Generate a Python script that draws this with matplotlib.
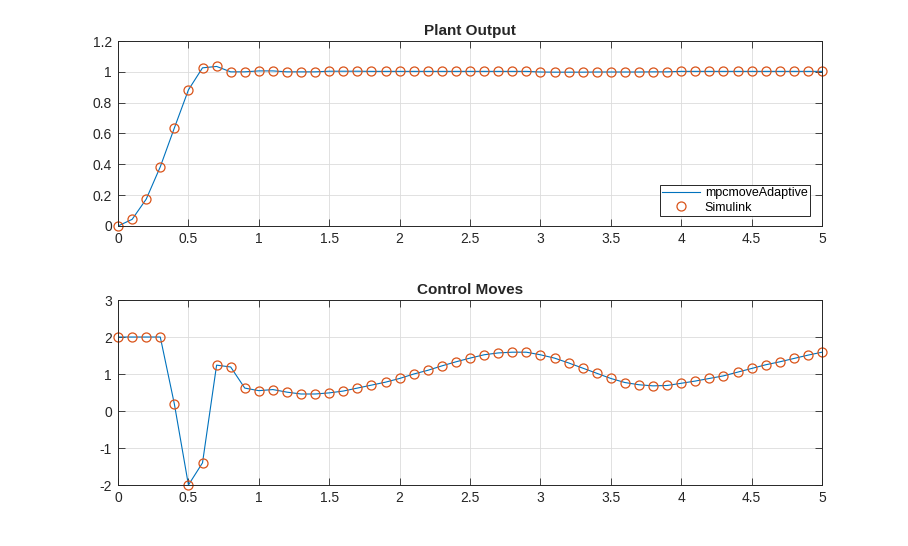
import numpy as np
import matplotlib.pyplot as plt
from matplotlib.ticker import FuncFormatter

plt.rcParams['font.family'] = ['Liberation Sans', 'DejaVu Sans']

# simulation time, step 0.1
t = np.round(np.arange(0, 5.01, 0.1), 1)

# plant output (both sims give the same values)
y_out = [0.0, 0.043, 0.174, 0.384, 0.636, 0.883, 1.026, 1.035, 1.0, 1.0,
         1.006, 1.006, 1.0, 1.0, 1.0, 1.004, 1.004, 1.004, 1.003, 1.003,
         1.003, 1.003, 1.003, 1.003, 1.003, 1.003, 1.003, 1.003, 1.003, 1.003,
         0.999, 0.998, 0.998, 0.998, 0.999, 0.999, 0.999, 0.999, 1.0, 1.0,
         1.003, 1.003, 1.003, 1.003, 1.003, 1.003, 1.003, 1.003, 1.003, 1.003,
         1.003]

# control moves
u_mv = [2.0, 2.0, 2.0, 2.0, 0.19, -2.0, -1.40, 1.24, 1.19, 0.62,
        0.55, 0.58, 0.51, 0.46, 0.46, 0.49, 0.54, 0.62, 0.70, 0.78,
        0.88, 1.0, 1.10, 1.22, 1.33, 1.43, 1.52, 1.57, 1.59, 1.59,
        1.52, 1.43, 1.30, 1.16, 1.02, 0.88, 0.77, 0.71, 0.68, 0.69,
        0.75, 0.81, 0.88, 0.95, 1.05, 1.15, 1.25, 1.33, 1.42, 1.51,
        1.59]

line_c = '#0072BD'
mark_c = '#D95319'
ax_c = '#262626'

fig = plt.figure(figsize=(9.08, 5.46), dpi=100)
ax1 = fig.add_axes([0.13, 0.5861, 0.7753, 0.3388])
ax2 = fig.add_axes([0.13, 0.1117, 0.7753, 0.3388])

def fmt(v, pos):
    return ('%g' % round(v, 2))

for ax, y, title, yl, yt in [
        (ax1, y_out, 'Plant Output', (0, 1.2), np.arange(0, 1.21, 0.2)),
        (ax2, u_mv, 'Control Moves', (-2, 3), np.arange(-2, 3.1, 1))]:
    ax.plot(t, y, color=line_c, lw=0.8, label='mpcmoveAdaptive')
    ax.plot(t, y, 'o', mfc='none', mec=mark_c, ms=6.5, mew=0.9,
            label='Simulink', clip_on=False)
    ax.set_xlim(0, 5)
    ax.set_ylim(*yl)
    ax.set_xticks(np.arange(0, 5.01, 0.5))
    ax.set_yticks(yt)
    ax.xaxis.set_major_formatter(FuncFormatter(fmt))
    ax.yaxis.set_major_formatter(FuncFormatter(fmt))
    ax.grid(True, color='#dcdcdc', lw=0.6)
    ax.set_axisbelow(True)
    ax.tick_params(direction='in', top=True, right=True, length=5,
                   width=0.6, colors=ax_c, labelsize=10, pad=4.5)
    for s in ax.spines.values():
        s.set_color(ax_c)
        s.set_linewidth(0.7)
    ax.set_title(title, fontsize=11, fontweight='bold', color=ax_c, pad=4)

leg = ax1.legend(loc='lower right', bbox_to_anchor=(0.983, 0.054),
                 borderaxespad=0, fontsize=9, frameon=True, fancybox=False,
                 edgecolor=ax_c, framealpha=1, handlelength=3.0,
                 borderpad=0.2, labelspacing=0.2, handletextpad=0.4)
leg.get_frame().set_linewidth(0.7)

fig.savefig('out.png', dpi=100)
